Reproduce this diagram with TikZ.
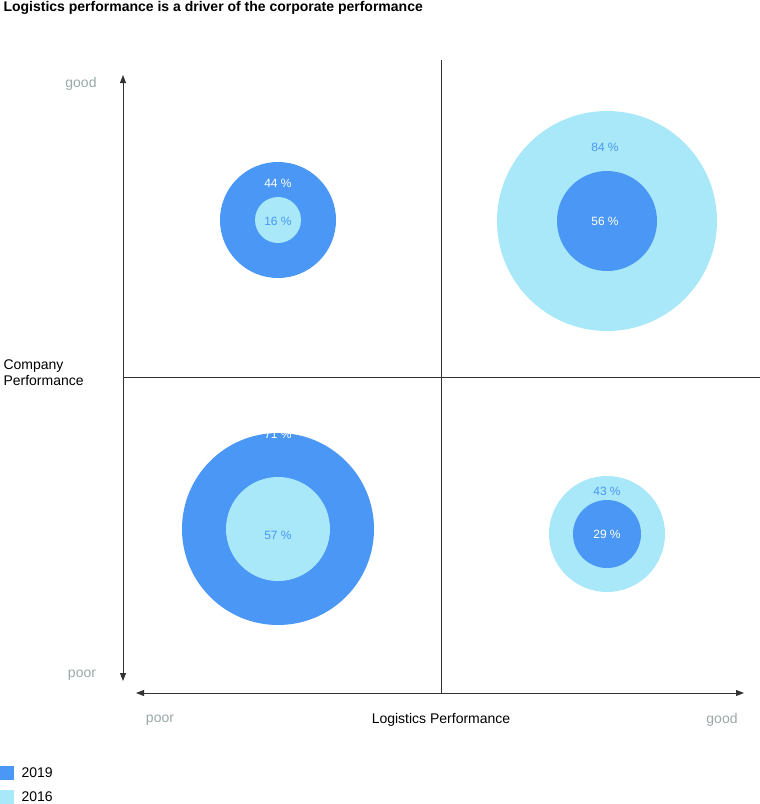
\documentclass[tikz,border=0pt]{standalone}
\usepackage{fontspec}
\setmainfont{Liberation Sans}
\usetikzlibrary{arrows.meta}
\definecolor{dblue}{HTML}{4A97F5}
\definecolor{lblue}{HTML}{A8E8F8}
\definecolor{gtext}{HTML}{9AA8A8}
\definecolor{axisc}{HTML}{333333}
\begin{document}
\begin{tikzpicture}[x=1pt,y=-1pt,
  axis/.style={draw=axisc,line width=0.9pt},
  arr/.style={axis,{Triangle[length=8pt,width=6pt]}-{Triangle[length=8pt,width=6pt]}},
  lbl/.style={font=\fontsize{14}{16}\selectfont,text=black},
  glbl/.style={font=\fontsize{14}{16}\selectfont,text=gtext},
  pct/.style={font=\fontsize{12}{14}\selectfont}]
\useasboundingbox (0,0) rectangle (760,804);
\node[anchor=west,font=\bfseries\fontsize{14}{16}\selectfont] (title) at (0,8) {Logistics performance is a driver of the corporate performance};
% circles
\fill[dblue] (278,220) circle (58); \fill[lblue] (278,220) circle (23);
\fill[lblue] (607,221) circle (110); \fill[dblue] (607,221) circle (50);
\fill[dblue] (278,529) circle (96); \fill[lblue] (278,529) circle (52);
\fill[lblue] (607,534) circle (58); \fill[dblue] (607,534) circle (34);
\node[pct,text=white] (a1) at (278,183) {44 \%};
\node[pct,text=dblue] (a2) at (278,221) {16 \%};
\node[pct,text=dblue] (b1) at (605,147) {84 \%};
\node[pct,text=white] (b2) at (605,221) {56 \%};
\node[pct,text=white] (c1) at (278,434) {71 \%};
\node[pct,text=dblue] (c2) at (278,535) {57 \%};
\node[pct,text=dblue] (d1) at (607,491) {43 \%};
\node[pct,text=white] (d2) at (607,534) {29 \%};
% axes
\coordinate (vt) at (123,75); \coordinate (vb) at (123,681);
\coordinate (hl) at (136,693); \coordinate (hr) at (744,693);
\coordinate (qt) at (441,60); \coordinate (qb) at (441,693);
\coordinate (ql) at (123,377); \coordinate (qr) at (760,377);
\draw[axis] (qt) -- (qb);
\draw[axis] (ql) -- (qr);
\draw[arr] (vt) -- (vb);
\draw[arr] (hl) -- (hr);
\node[glbl] (g1) at (81,84) {good};
\node[glbl] (p1) at (82,675) {poor};
\node[glbl] (p2) at (160,720) {poor};
\node[glbl] (g2) at (722,720) {good};
\node[lbl,anchor=west,align=left] (cp) at (0,373) {Company\\Performance};
\node[lbl] (lp) at (441,720) {Logistics Performance};
\fill[dblue] (0,766) rectangle (14,780);
\fill[lblue] (0,790) rectangle (14,804);
\node[lbl,anchor=west] (l1) at (18,773) {2019};
\node[lbl,anchor=west] (l2) at (18,797) {2016};
\end{tikzpicture}
\end{document}
